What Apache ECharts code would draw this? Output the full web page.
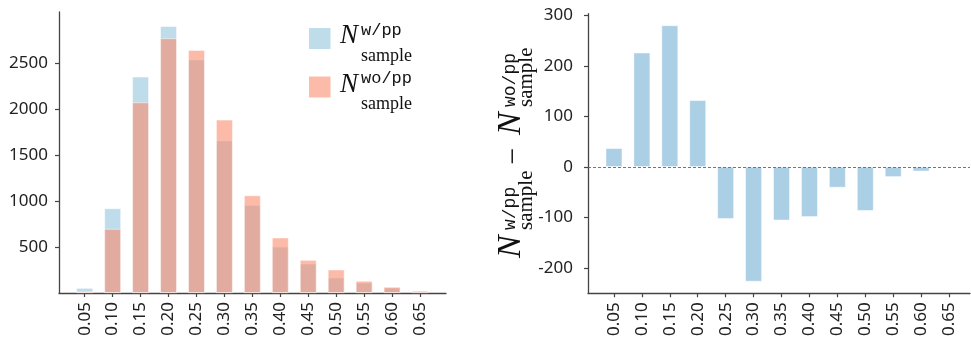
<!DOCTYPE html>
<html style="height: 100%">
<head>
  <meta charset="utf-8">
</head>
<body style="height: 100%; margin: 0; background: #fff">
  <div id="container" style="width: 971px; height: 339px"></div>
  <script src="https://cdn.jsdelivr.net/npm/echarts@6/dist/echarts.min.js"></script>
  <script>
    // bin labels and counts
    const categories = ['0.05', '0.10', '0.15', '0.20', '0.25', '0.30', '0.35', '0.40', '0.45', '0.50', '0.55', '0.60', '0.65'];
    const withPP = [55, 922, 2356, 2906, 2543, 1660, 958, 505, 320, 168, 112, 58, 24];
    const withoutPP = [18, 698, 2076, 2774, 2646, 1887, 1063, 603, 360, 255, 132, 67, 22];
    const diffPP = [37, 226, 280, 132, -103, -227, -106, -99, -41, -87, -20, -9, 2];
    const leftTicks = [500, 1000, 1500, 2000, 2500];
    const rightTicks = [-200, -100, 0, 100, 200, 300];

    const blue = 'rgba(166, 206, 227, 0.72)';
    const red = 'rgba(250, 140, 112, 0.6)';
    const diffBlue = '#abcfe5';
    const axisColor = '#444';
    const serif = '"Liberation Serif", serif';
    const mono = '"Liberation Mono", monospace';

    const idx = categories.map((c, i) => i);

    var dom = document.getElementById('container');
    var myChart = echarts.init(dom, null, { renderer: 'canvas' });

    function xAxisOf(gridIndex, min, max) {
      return {
        type: 'value',
        gridIndex: gridIndex,
        min: min,
        max: max,
        splitLine: { show: false },
        axisLine: { onZero: false, lineStyle: { color: axisColor, width: 1.3 } },
        axisTick: { customValues: idx, length: 4, lineStyle: { color: axisColor, width: 1.2 } },
        axisLabel: {
          customValues: idx,
          rotate: 90,
          margin: 9,
          fontSize: 17,
          fontFamily: 'Noto Sans',
          color: '#222',
          formatter: function (v) { return categories[Math.round(v)]; }
        }
      };
    }

    function yAxisOf(gridIndex, min, max, ticks, margin) {
      return {
        type: 'value',
        gridIndex: gridIndex,
        min: min,
        max: max,
        splitLine: { show: false },
        axisLine: { show: true, onZero: false, lineStyle: { color: axisColor, width: 1.3 } },
        axisTick: { show: true, customValues: ticks, length: 4, lineStyle: { color: axisColor, width: 1.2 } },
        axisLabel: {
          customValues: ticks,
          margin: margin,
          fontSize: 17,
          fontFamily: 'Noto Sans',
          color: '#222',
          formatter: function (v) { return String(v); }
        }
      };
    }

    // text placed by its baseline (k = middle-to-baseline ratio of the font)
    function txt(s, x, base, size, family, italic, k, align) {
      return {
        type: 'text',
        x: x,
        y: base - k * size,
        style: {
          text: s,
          fontSize: size,
          fontFamily: family,
          fontStyle: italic ? 'italic' : 'normal',
          fill: '#111',
          align: align || 'left',
          verticalAlign: 'middle'
        }
      };
    }

    // N^{sup}_{sample}
    function symbolN(x, base, sup, f) {
      return [
        txt('N', x, base, f.n, serif, true, 0.33),
        txt(sup, x + f.dx, base - f.up, f.sup, mono, false, 0.27),
        txt('sample', x + f.dx, base + f.down, f.sub, serif, false, 0.33)
      ];
    }

    const legendFont = { n: 27, sup: 17, sub: 18, dx: 21, up: 10, down: 17 };
    const nameFont = { n: 34, sup: 18, sub: 21, dx: 28, up: 7, down: 11 };

    const legendItems = [
      { type: 'rect', shape: { x: 309, y: 28, width: 21.5, height: 21 }, style: { fill: blue } },
      { type: 'rect', shape: { x: 309, y: 76.5, width: 21.5, height: 21 }, style: { fill: red } }
    ].concat(symbolN(340, 45, 'w/pp', legendFont), symbolN(340, 93.4, 'wo/pp', legendFont));

    const nameParts = [].concat(
      symbolN(0, 0, 'w/pp', nameFont),
      [txt('\u2212', 102, 2.5, 30, serif, false, 0.33, 'center')],
      symbolN(123, 0, 'wo/pp', nameFont)
    );

    var option = {
      animation: false,
      grid: [
        { left: 59, right: 525, top: 12, bottom: 46 },
        { left: 588, right: 1, top: 13.7, bottom: 45.7 }
      ],
      xAxis: [
        xAxisOf(0, -0.92, 12.93),
        xAxisOf(1, -0.93, 12.75)
      ],
      yAxis: [
        yAxisOf(0, 0, 3060, leftTicks, 11),
        yAxisOf(1, -250, 303, rightTicks, 15)
      ],
      series: [
        {
          type: 'bar',
          xAxisIndex: 0,
          yAxisIndex: 0,
          barWidth: 16.8,
          barGap: '-100%',
          itemStyle: { color: blue, borderColor: 'rgba(255,255,255,0.6)', borderWidth: 0.8 },
          data: withPP.map((v, i) => [i, v])
        },
        {
          type: 'bar',
          xAxisIndex: 0,
          yAxisIndex: 0,
          barWidth: 16.8,
          barGap: '-100%',
          itemStyle: { color: red, borderColor: 'rgba(255,255,255,0.6)', borderWidth: 0.8 },
          data: withoutPP.map((v, i) => [i, v])
        },
        {
          type: 'bar',
          xAxisIndex: 1,
          yAxisIndex: 1,
          barWidth: 16.8,
          itemStyle: { color: diffBlue, borderColor: 'rgba(255,255,255,0.6)', borderWidth: 0.8 },
          data: diffPP.map((v, i) => [i, v]),
          markLine: {
            silent: true,
            symbol: 'none',
            label: { show: false },
            lineStyle: { type: [3, 2], color: '#666', width: 0.9 },
            data: [{ yAxis: 0 }]
          }
        }
      ],
      graphic: [
        { type: 'group', children: legendItems },
        { type: 'group', x: 522, y: 258, rotation: Math.PI / 2, children: nameParts }
      ]
    };

    myChart.setOption(option);
    window.addEventListener('resize', myChart.resize);
  </script>
</body>
</html>
